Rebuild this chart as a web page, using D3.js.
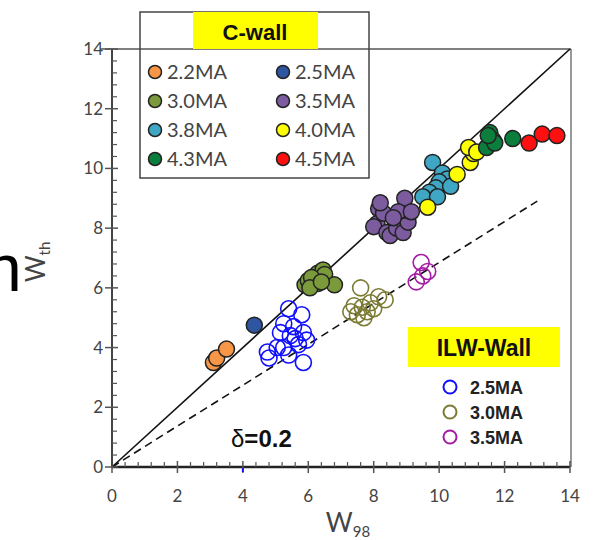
<!DOCTYPE html>
<html>
  <head>
    <title>Wth vs W98</title>
  </head>
  <body>
    <style>
      body, html { margin: 0; padding: 0; background: #fff; }
      svg { display: block; }
    </style>

    <svg id="svg" width="593" height="540"></svg>

    <script src="https://cdn.jsdelivr.net/npm/d3@7"></script>
    <script>
      // C-wall series (filled markers): [W98, Wth]
      const c22 = [[3.1, 3.5], [3.2, 3.65], [3.5, 3.95]];
      const c25 = [[4.35, 4.75]];
      const c30 = [[5.9, 6.1], [6.0, 6.25], [6.2, 6.4], [6.3, 6.5], [6.45, 6.6], [6.5, 6.45],
                   [6.3, 6.15], [6.1, 6.35], [6.8, 6.1], [6.05, 6.0], [6.4, 6.2]];
      const c35 = [[8.15, 8.65], [8.1, 8.15], [8.0, 8.05], [8.4, 7.85], [8.5, 7.75], [8.7, 8.0],
                   [8.9, 7.85], [9.05, 8.2], [9.0, 8.6], [8.95, 9.0], [8.75, 8.55], [8.3, 8.5],
                   [8.6, 8.35], [9.15, 8.55], [8.2, 8.85]];
      const c38 = [[9.8, 10.2], [10.1, 9.85], [10.25, 9.65], [10.0, 9.55], [9.9, 9.35], [9.7, 9.2],
                   [9.5, 9.05], [9.95, 9.05], [10.35, 9.4]];
      const c40 = [[9.65, 8.7], [10.55, 9.8], [10.95, 10.2], [11.05, 10.5], [10.9, 10.7], [11.15, 10.55]];
      const c43 = [[11.55, 11.2], [11.65, 10.95], [11.45, 10.7], [11.7, 10.85], [11.5, 11.1], [12.25, 11.0]];
      const c45 = [[12.75, 10.85], [13.15, 11.15], [13.6, 11.1]];

      // ILW-Wall series (open markers)
      const i25 = [[5.4, 5.3], [5.8, 5.1], [5.25, 4.8], [5.55, 4.7], [5.15, 4.5], [5.45, 4.4],
                   [5.85, 4.5], [4.75, 3.85], [4.8, 3.65], [5.05, 4.0], [5.25, 4.0], [5.4, 3.75],
                   [5.7, 4.1], [5.85, 3.5], [5.95, 4.25], [5.6, 4.3]];
      const i30 = [[7.6, 6.0], [8.15, 5.7], [8.35, 5.6], [7.4, 5.4], [7.65, 5.35], [7.9, 5.5],
                   [7.3, 5.2], [7.5, 5.1], [7.8, 5.2], [8.0, 5.3], [7.7, 5.0]];
      const i35 = [[9.45, 6.85], [9.65, 6.55], [9.3, 6.2], [9.5, 6.4]];

      const cLabels = ['2.2MA', '2.5MA', '3.0MA', '3.5MA', '3.8MA', '4.0MA', '4.3MA', '4.5MA'];
      const cColors = ['#f79646', '#2e55a0', '#7a9a3c', '#7c5c9f', '#3fa6c4', '#ffff00', '#0b7d3c', '#ff1010'];
      const cSeries = [c22, c25, c30, c35, c38, c40, c43, c45];

      const iLabels = ['2.5MA', '3.0MA', '3.5MA'];
      const iColors = ['#1010ff', '#7b7b35', '#a51ca5'];
      const iSeries = [i25, i30, i35];

      const majorTicks = [0, 2, 4, 6, 8, 10, 12, 14];
      const slopeDashed = 0.685;

      const svg = d3.select('#svg');

      const xscale = d3.scaleLinear().domain([0, 14]).range([112, 570]);
      const yscale = d3.scaleLinear().domain([0, 14]).range([467, 49]);
      const minorTicks = d3.range(0, 14.01, 0.4).filter(v => !majorTicks.includes(Math.round(v * 10) / 10));

      // partial slide text at left edge (cut off in the original too)
      svg.append('text')
        .attr('x', -15).attr('y', 291)
        .attr('font-family', 'Liberation Sans, Arial, sans-serif')
        .attr('font-size', 66)
        .attr('fill', '#000')
        .text('n');

      // right frame and top frame
      svg.append('line')
        .attr('x1', 571).attr('x2', 571).attr('y1', yscale(14)).attr('y2', yscale(0))
        .attr('stroke', '#999').attr('stroke-width', 2);
      svg.append('line')
        .attr('x1', 100).attr('x2', 571).attr('y1', yscale(14)).attr('y2', yscale(14))
        .attr('stroke', '#555').attr('stroke-width', 1.5);

      // reference lines
      svg.append('line')
        .attr('x1', xscale(0)).attr('y1', yscale(0))
        .attr('x2', xscale(14)).attr('y2', yscale(14))
        .attr('stroke', '#111').attr('stroke-width', 1.6);
      svg.append('line')
        .attr('x1', xscale(0)).attr('y1', yscale(0))
        .attr('x2', xscale(13)).attr('y2', yscale(13 * slopeDashed))
        .attr('stroke', '#111').attr('stroke-width', 1.6)
        .attr('stroke-dasharray', '8,5');

      // axes
      const axisColor = '#555';
      const gx = svg.append('g');
      gx.append('line')
        .attr('x1', xscale(0)).attr('x2', xscale(14))
        .attr('y1', yscale(0)).attr('y2', yscale(0))
        .attr('stroke', '#222').attr('stroke-width', 2.5);
      gx.selectAll('.minor').data(minorTicks).join('line')
        .attr('x1', d => xscale(d)).attr('x2', d => xscale(d))
        .attr('y1', yscale(0)).attr('y2', yscale(0) - 5)
        .attr('stroke', axisColor).attr('stroke-width', 1.2);
      gx.selectAll('.major').data(majorTicks).join('line')
        .attr('x1', d => xscale(d)).attr('x2', d => xscale(d))
        .attr('y1', yscale(0) - 6).attr('y2', yscale(0) + 6)
        .attr('stroke', axisColor).attr('stroke-width', 1.5);
      gx.selectAll('text').data(majorTicks).join('text')
        .attr('x', d => xscale(d)).attr('y', 502)
        .attr('text-anchor', 'middle')
        .attr('font-family', 'Lato, Open Sans, sans-serif')
        .attr('font-size', 17).attr('fill', '#444')
        .text(d => d);

      // small blue mark under x axis at 4
      svg.append('line')
        .attr('x1', xscale(4)).attr('x2', xscale(4))
        .attr('y1', yscale(0) + 1).attr('y2', yscale(0) + 5)
        .attr('stroke', '#1010ff').attr('stroke-width', 2);

      const gy = svg.append('g');
      gy.append('line')
        .attr('x1', xscale(0)).attr('x2', xscale(0))
        .attr('y1', yscale(0)).attr('y2', yscale(14))
        .attr('stroke', '#444').attr('stroke-width', 2);
      gy.selectAll('.minor').data(minorTicks).join('line')
        .attr('y1', d => yscale(d)).attr('y2', d => yscale(d))
        .attr('x1', xscale(0)).attr('x2', xscale(0) + 5)
        .attr('stroke', axisColor).attr('stroke-width', 1.2);
      gy.selectAll('.major').data(majorTicks).join('line')
        .attr('y1', d => yscale(d)).attr('y2', d => yscale(d))
        .attr('x1', xscale(0) - 7).attr('x2', xscale(0) + 6)
        .attr('stroke', axisColor).attr('stroke-width', 1.5);
      gy.selectAll('text').data(majorTicks).join('text')
        .attr('x', 103).attr('y', d => yscale(d) + 6)
        .attr('text-anchor', 'end')
        .attr('font-family', 'Lato, Open Sans, sans-serif')
        .attr('font-size', 17).attr('fill', '#444')
        .text(d => d);

      // axis titles
      const xt = svg.append('text')
        .attr('x', 348).attr('y', 532)
        .attr('text-anchor', 'middle')
        .attr('font-family', 'Lato, Open Sans, sans-serif')
        .attr('font-size', 26).attr('fill', '#444');
      xt.append('tspan').text('W');
      xt.append('tspan').attr('font-size', 15).attr('dy', 5).text('98');

      const yt = svg.append('text')
        .attr('transform', 'translate(45, 262) rotate(-90)')
        .attr('text-anchor', 'middle')
        .attr('font-family', 'Lato, Open Sans, sans-serif')
        .attr('font-size', 26).attr('fill', '#444');
      yt.append('tspan').text('W');
      yt.append('tspan').attr('font-size', 15).attr('dy', 5).text('th');

      // ILW open markers
      iSeries.forEach((series, k) => {
        svg.append('g').selectAll('circle').data(series).join('circle')
          .attr('cx', d => xscale(d[0])).attr('cy', d => yscale(d[1]))
          .attr('r', 8)
          .attr('fill', 'none')
          .attr('stroke', iColors[k]).attr('stroke-width', 1.6);
      });

      // C-wall filled markers
      cSeries.forEach((series, k) => {
        svg.append('g').selectAll('circle').data(series).join('circle')
          .attr('cx', d => xscale(d[0])).attr('cy', d => yscale(d[1]))
          .attr('r', 8)
          .attr('fill', cColors[k])
          .attr('stroke', '#222').attr('stroke-width', 1.5);
      });

      // delta label
      const dl = svg.append('text')
        .attr('x', 231).attr('y', 447)
        .attr('font-family', 'Liberation Sans, Arial, sans-serif')
        .attr('font-size', 24).attr('fill', '#111');
      dl.append('tspan').text('δ');
      dl.append('tspan').attr('font-weight', 'bold').text('=0.2');

      // C-wall legend
      const lg = svg.append('g');
      lg.append('rect')
        .attr('x', 140).attr('y', 12).attr('width', 229).attr('height', 166)
        .attr('fill', 'none').attr('stroke', '#444').attr('stroke-width', 1.5);
      lg.append('rect')
        .attr('x', 193).attr('y', 12).attr('width', 125).attr('height', 37)
        .attr('fill', '#ffff00');
      lg.append('text')
        .attr('x', 255).attr('y', 40)
        .attr('text-anchor', 'middle')
        .attr('font-family', 'Liberation Sans, Arial, sans-serif')
        .attr('font-weight', 'bold').attr('font-size', 22).attr('fill', '#111')
        .text('C-wall');
      const items = lg.selectAll('.item').data(cLabels).join('g')
        .attr('transform', (d, i) => `translate(${i % 2 === 0 ? 155 : 283}, ${72 + Math.floor(i / 2) * 29})`);
      items.append('circle')
        .attr('r', 6.5).attr('fill', (d, i) => cColors[i])
        .attr('stroke', '#222').attr('stroke-width', 1.5);
      items.append('text')
        .attr('x', 12).attr('y', 7)
        .attr('font-family', 'Lato, Open Sans, sans-serif')
        .attr('font-size', 20).attr('fill', '#444')
        .text(d => d);

      // ILW legend
      const il = svg.append('g');
      il.append('rect')
        .attr('x', 408).attr('y', 327).attr('width', 152).attr('height', 40)
        .attr('fill', '#ffff00');
      il.append('text')
        .attr('x', 484).attr('y', 356)
        .attr('text-anchor', 'middle')
        .attr('font-family', 'Liberation Sans, Arial, sans-serif')
        .attr('font-weight', 'bold').attr('font-size', 23).attr('fill', '#111')
        .text('ILW-Wall');
      const iitems = il.selectAll('.item').data(iLabels).join('g')
        .attr('transform', (d, i) => `translate(450, ${387 + i * 25})`);
      iitems.append('circle')
        .attr('r', 6.5).attr('fill', 'none')
        .attr('stroke', (d, i) => iColors[i]).attr('stroke-width', 2);
      iitems.append('text')
        .attr('x', 20).attr('y', 6.5)
        .attr('font-family', 'Liberation Sans, Arial, sans-serif')
        .attr('font-weight', 'bold').attr('font-size', 18).attr('fill', '#222')
        .text(d => d);
    </script>
  </body>
</html>
